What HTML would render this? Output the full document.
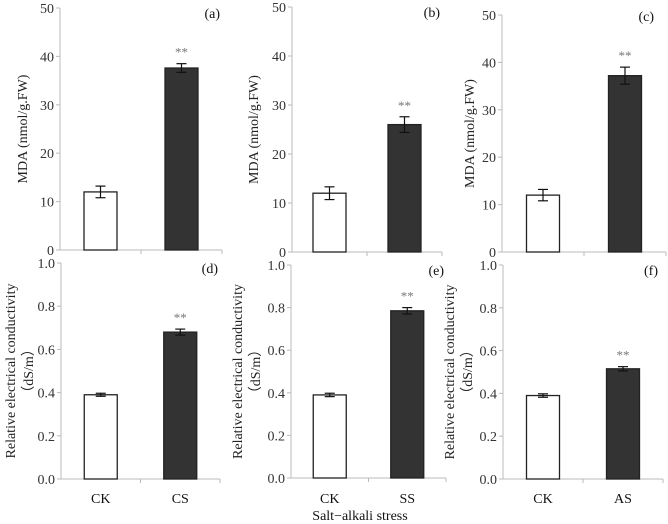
<!DOCTYPE html>
<html><head><meta charset="utf-8"><style>
body{margin:0;background:#fff}
svg{display:block;font-family:"Liberation Serif",serif}
</style></head><body>
<svg id="c" width="668" height="524"></svg>
<script>
const categories=[["CK","CS"],["CK","SS"],["CK","CS"],["CK","CS"],["CK","SS"],["CK","AS"]];
const means=[[12,37.6],[12,26],[12,37.2],[0.39,0.68],[0.39,0.785],[0.39,0.515]];
const errs=[[1.2,0.9],[1.3,1.6],[1.2,1.8],[0.007,0.014],[0.008,0.015],[0.008,0.01]];
const panelLetters=["(a)","(b)","(c)","(d)","(e)","(f)"];
const mdaTicks=["0","10","20","30","40","50"];
const ecTicks=["0.0","0.2","0.4","0.6","0.8","1.0"];
const yMax=[50,50,50,1,1,1];
const layout=[
 {x0:60,x1:222,yt:8,yz:250,tx:[22],lx:222,ly:18},
 {x0:292,x1:442,yt:7,yz:252,tx:[253],lx:442,ly:17},
 {x0:502,x1:666,yt:15,yz:252,tx:[469],lx:656,ly:21},
 {x0:61,x1:220,yt:263,yz:479,tx:[10,28],lx:220,ly:273},
 {x0:291,x1:446,yt:265,yz:478,tx:[237,255],lx:446,ly:275},
 {x0:503,x1:663,yt:265,yz:479,tx:[449,467],lx:660,ly:275}];
const svg=document.getElementById('c');const NS="http://www.w3.org/2000/svg";
function mk(t,a,p){const e=document.createElementNS(NS,t);for(const k in a)e.setAttribute(k,a[k]);(p||svg).appendChild(e);return e;}
layout.forEach((L,i)=>{
 const g=mk('g',{});
 
 
 const y=v=>L.yz-(v/yMax[i])*(L.yz-L.yt);
 const w=L.x1-L.x0;
 const x=j=>L.x0+w*(0.25+0.5*j);
 mk('line',{x1:L.x0,y1:L.yt,x2:L.x0,y2:L.yz,stroke:'#bbb'},g);
 mk('line',{x1:L.x0,y1:L.yz,x2:L.x1,y2:L.yz,stroke:'#bbb'},g);
 mk('line',{x1:L.x0+w/2,y1:L.yz,x2:L.x0+w/2,y2:L.yz+4,stroke:'#bbb'},g);
 mk('line',{x1:L.x1,y1:L.yz,x2:L.x1,y2:L.yz+4,stroke:'#bbb'},g);
 const ticks=i<3?mdaTicks:ecTicks;
 ticks.forEach((t,k)=>{const yy=y(parseFloat(t));
  mk('line',{x1:L.x0-4,y1:yy,x2:L.x0,y2:yy,stroke:'#bbb'},g);
  const tx=mk('text',{x:L.x0-6,y:yy+5,'text-anchor':'end','font-size':14,fill:'#333'},g);tx.textContent=t;
  });
 const lt=mk('text',{x:L.lx-2,y:L.ly,'text-anchor':'end','font-size':14,fill:'#111'},g);lt.textContent=panelLetters[i];
 
 const cy=(L.yt+L.yz)/2;
 if(i<3){const t=mk('text',{x:L.tx[0],y:cy,'text-anchor':'middle','font-size':14,fill:'#222',transform:`rotate(-90 ${L.tx[0]} ${cy}) translate(0 5)`},g);t.textContent="MDA (nmol/g.FW)";
  }
 else{const t=mk('text',{x:L.tx[0],y:cy,'text-anchor':'middle','font-size':14,fill:'#222',transform:`rotate(-90 ${L.tx[0]} ${cy}) translate(0 5)`},g);t.textContent="Relative electrical conductivity";
  
  const t2=mk('text',{x:L.tx[1],y:cy,'text-anchor':'middle','font-size':14,fill:'#222',transform:`rotate(-90 ${L.tx[1]} ${cy}) translate(0 5)`},g);t2.textContent="（dS/m）";
  }
 means[i].forEach((m,j)=>{
  const cx=x(j),top=y(m);
  const r=mk('rect',{x:cx-16.5,y:top,width:33,height:L.yz-top,fill:j?'#333':'#fff',stroke:'#222','stroke-width':1.3},g);
  
  const e=errs[i][j],ya=y(m+e),yb=y(m-e);
  mk('line',{x1:cx,y1:ya,x2:cx,y2:yb,stroke:'#111','stroke-width':1.2},g);
  mk('line',{x1:cx-5,y1:ya,x2:cx+5,y2:ya,stroke:'#111','stroke-width':1.2},g);
  mk('line',{x1:cx-5,y1:yb,x2:cx+5,y2:yb,stroke:'#111','stroke-width':1.2},g);
  if(j===1){const s=mk('text',{x:cx,y:ya-7,'text-anchor':'middle','font-size':13,fill:'#777'},g);s.textContent="**";
   }
  if(i>=3){const c=mk('text',{x:cx,y:503,'text-anchor':'middle','font-size':14,fill:'#111'},g);c.textContent=categories[i][j];
   }
 });
});
const xt=mk('text',{x:360,y:520,'text-anchor':'middle','font-size':14,fill:'#111'});xt.textContent="Salt−alkali stress";


</script>
</body></html>
